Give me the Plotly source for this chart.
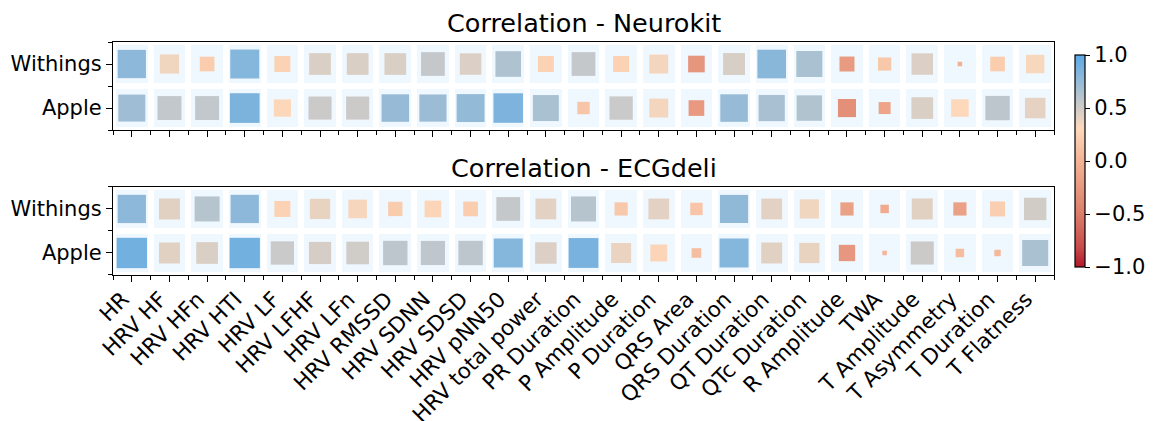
import numpy as np
import plotly.graph_objects as go

features = ["HR", "HRV HF", "HRV HFn", "HRV HTI", "HRV LF", "HRV LFHF", "HRV LFn",
            "HRV RMSSD", "HRV SDNN", "HRV SDSD", "HRV pNN50", "HRV total power",
            "PR Duration", "P Amplitude", "P Duration", "QRS Area", "QRS Duration",
            "QT Duration", "QTc Duration", "R Amplitude", "TWA", "T Amplitude",
            "T Asymmetry", "T Duration", "T Flatness"]
devices = ["Apple", "Withings"]

neurokit_withings = [0.78, 0.36, 0.21, 0.82, 0.25, 0.46, 0.46, 0.46, 0.55, 0.45, 0.64, 0.25,
                     0.55, 0.25, 0.35, -0.27, 0.47, 0.80, 0.66, -0.22, 0.17, 0.45, -0.02, 0.21, 0.33]
neurokit_apple = [0.71, 0.56, 0.56, 0.86, 0.29, 0.52, 0.52, 0.74, 0.72, 0.76, 0.85, 0.66,
                  0.15, 0.53, 0.35, -0.24, 0.74, 0.67, 0.63, -0.32, -0.14, 0.46, 0.30, 0.58, 0.41]
ecgdeli_withings = [0.78, 0.43, 0.61, 0.78, 0.25, 0.40, 0.34, 0.20, 0.27, 0.21, 0.55, 0.42,
                    0.61, 0.17, 0.42, 0.15, 0.77, 0.42, 0.36, -0.17, -0.07, 0.43, -0.17, 0.22, 0.49]
ecgdeli_apple = [0.90, 0.43, 0.46, 0.90, 0.53, 0.48, 0.50, 0.58, 0.57, 0.58, 0.82, 0.45,
                 0.87, 0.39, 0.28, 0.09, 0.82, 0.43, 0.40, -0.26, 0.02, 0.52, 0.07, 0.04, 0.66]

titles = ["Correlation - Neurokit", "Correlation - ECGdeli"]
cbar_ticks = [-1.0, -0.5, 0.0, 0.5, 1.0]
cbar_text = ["\u22121.0", "\u22120.5", "0.0", "0.5", "1.0"]

colorscale = [[0.0, "#b2182b"], [0.09, "#c8494a"], [0.25, "#dc7d6a"], [0.5, "#f3b395"],
              [0.655, "#fdd9bc"], [1.0, "#5aa9e6"]]

FONT = "DejaVu Sans"
CELL_PX = 32.0  # square side for |r| = 1

fig = go.Figure()

panels = [(neurokit_withings, neurokit_apple), (ecgdeli_withings, ecgdeli_apple)]
x_idx = np.arange(len(features))
for p, (w_vals, a_vals) in enumerate(panels):
    xa = "x" if p == 0 else "x2"
    ya = "y" if p == 0 else "y2"
    # background cells
    fig.add_trace(go.Heatmap(
        x=x_idx, y=[0, 1], z=np.ones((2, len(features))),
        colorscale=[[0, "#eff7ff"], [1, "#eff7ff"]], zmin=0, zmax=1,
        showscale=False, xgap=6, ygap=6, hoverinfo="skip", xaxis=xa, yaxis=ya))
    xs, ys, vs = [], [], []
    for yi, vals in ((1, w_vals), (0, a_vals)):
        for xi, v in enumerate(vals):
            xs.append(xi); ys.append(yi); vs.append(v)
    vs = np.array(vs)
    fig.add_trace(go.Scatter(
        x=xs, y=ys, mode="markers",
        marker=dict(symbol="square", size=CELL_PX * np.sqrt(np.abs(vs)), opacity=1,
                    color=vs, coloraxis="coloraxis", line=dict(width=0)),
        showlegend=False, xaxis=xa, yaxis=ya))

axis_common = dict(showline=True, mirror=True, linecolor="black", linewidth=1.2,
                   ticks="outside", ticklen=6, tickwidth=1.2, tickcolor="black",
                   showgrid=False, zeroline=False)
yfont = dict(family=FONT, size=21, color="black")
xfont = dict(family=FONT, size=21.5, color="black")
minor = dict(ticks="outside", ticklen=3.5, tickwidth=1, tickcolor="black",
             tick0=0.5, dtick=1, showgrid=False)

fig.update_layout(
    width=1158, height=421, autosize=False,
    margin=dict(l=113, r=101, t=42, b=146),
    paper_bgcolor="white", plot_bgcolor="white",
    font=dict(family=FONT, color="black"),
    xaxis=dict(domain=[0, 1], range=[-0.5, len(features) - 0.5], anchor="y",
               tickvals=list(x_idx), ticktext=features, showticklabels=False,
               tickfont=xfont, minor=minor, **axis_common),
    yaxis=dict(domain=[0.622, 1], range=[-0.5, 1.5], anchor="x",
               tickvals=[0, 1], ticktext=devices, tickfont=yfont, minor=minor, **axis_common),
    xaxis2=dict(domain=[0, 1], range=[-0.5, len(features) - 0.5], anchor="y2",
                tickvals=list(x_idx), ticktext=features, tickangle=-45,
                ticklabelshift=-9, ticklabelstandoff=-4,
                tickfont=xfont, minor=minor, automargin=False, **axis_common),
    yaxis2=dict(domain=[0, 0.378], range=[-0.5, 1.5], anchor="x2",
                tickvals=[0, 1], ticktext=devices, tickfont=yfont, minor=minor, **axis_common),
    coloraxis=dict(colorscale=colorscale, cmin=-1, cmax=1,
                   colorbar=dict(x=1.0223, xanchor="left", xpad=0, y=0.489, yanchor="middle",
                                 ypad=0, thickness=10, lenmode="pixels", len=212,
                                 outlinewidth=1.2, outlinecolor="black",
                                 ticks="outside", ticklen=5, tickwidth=1.2, tickcolor="black",
                                 tickvals=cbar_ticks, ticktext=cbar_text,
                                 tickfont=yfont)),
    annotations=[
        dict(text=titles[0], x=0.5, y=1.0, xref="paper", yref="paper", xanchor="center",
             yanchor="bottom", yshift=2, showarrow=False,
             font=dict(family=FONT, size=25.5, color="black")),
        dict(text=titles[1], x=0.5, y=0.378, xref="paper", yref="paper", xanchor="center",
             yanchor="bottom", yshift=2, showarrow=False,
             font=dict(family=FONT, size=25.5, color="black")),
    ],
)

fig.write_html("out.html")
